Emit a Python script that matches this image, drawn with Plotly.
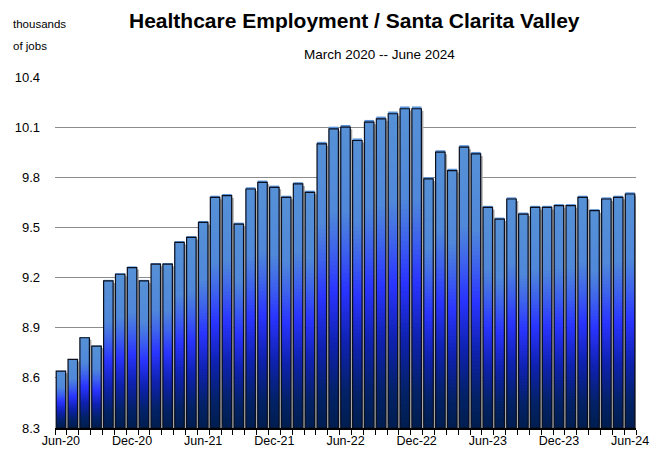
import plotly.graph_objects as go

months = ["Jun-20","Jul-20","Aug-20","Sep-20","Oct-20","Nov-20","Dec-20","Jan-21","Feb-21","Mar-21","Apr-21","May-21",
          "Jun-21","Jul-21","Aug-21","Sep-21","Oct-21","Nov-21","Dec-21","Jan-22","Feb-22","Mar-22","Apr-22","May-22",
          "Jun-22","Jul-22","Aug-22","Sep-22","Oct-22","Nov-22","Dec-22","Jan-23","Feb-23","Mar-23","Apr-23","May-23",
          "Jun-23","Jul-23","Aug-23","Sep-23","Oct-23","Nov-23","Dec-23","Jan-24","Feb-24","Mar-24","Apr-24","May-24",
          "Jun-24"]
jobs = [8.64, 8.71, 8.84, 8.79, 9.18, 9.22, 9.26, 9.18, 9.28, 9.28, 9.41, 9.44,
        9.53, 9.68, 9.69, 9.52, 9.73, 9.77, 9.74, 9.68, 9.76, 9.71, 10.00, 10.09,
        10.10, 10.02, 10.13, 10.15, 10.18, 10.21, 10.21, 9.79, 9.95, 9.84, 9.98, 9.94,
        9.62, 9.55, 9.67, 9.58, 9.62, 9.62, 9.63, 9.63, 9.68, 9.60, 9.67, 9.68,
        9.70]
label_months = ["Jun-20","Dec-20","Jun-21","Dec-21","Jun-22","Dec-22","Jun-23","Dec-23","Jun-24"]
y_ticks = [8.3, 8.6, 8.9, 9.2, 9.5, 9.8, 10.1, 10.4]

Y_MIN, Y_MAX = 8.3, 10.4
FONT = "Liberation Sans, Arial, sans-serif"

x = list(range(len(months)))
label_pos = [months.index(m) for m in label_months]

# vertical gradient stops: fraction from bar bottom -> colour
stops = [(0.0, (0, 30, 80)), (0.12, (3, 34, 105)), (0.28, (14, 34, 175)),
         (0.46, (42, 52, 255)), (0.58, (60, 95, 238)), (0.72, (80, 136, 218)),
         (1.0, (86, 145, 214))]

def grad(f):
    for (f0, c0), (f1, c1) in zip(stops[:-1], stops[1:]):
        if f0 <= f <= f1:
            t = (f - f0) / (f1 - f0)
            c = [round(a + (b - a) * t) for a, b in zip(c0, c1)]
            return "rgb(%d,%d,%d)" % tuple(c)
    return "rgb(%d,%d,%d)" % stops[-1][1]

W = 0.80
fig = go.Figure()

# drop shadow
fig.add_trace(go.Bar(x=x, y=[v - 0.012 - Y_MIN for v in jobs], base=Y_MIN, width=W,
                     offset=-W / 2 + 0.17, marker=dict(color="#a8a8a8", line=dict(width=0)),
                     hoverinfo="skip", showlegend=False))

N = 70
for k in range(N):
    ext = 1.0 if k == N - 1 else 2.5  # overlap slices to hide seams
    fig.add_trace(go.Bar(
        x=x,
        y=[(v - Y_MIN) / N * ext for v in jobs],
        base=[Y_MIN + (v - Y_MIN) * k / N for v in jobs],
        width=W, offset=-W / 2,
        marker=dict(color=grad((k + 0.5) / N), line=dict(width=0)),
        hoverinfo="skip", showlegend=False))

# outline
fig.add_trace(go.Bar(x=x, y=[v - Y_MIN for v in jobs], base=Y_MIN, width=W, offset=-W / 2,
                     marker=dict(color="rgba(0,0,0,0)", line=dict(color="#0b0f1e", width=1.2)),
                     showlegend=False, hovertemplate="%{customdata}: %{y:.2f}<extra></extra>",
                     customdata=months))

fig.update_layout(
    width=665, height=459,
    margin=dict(l=55, r=29, t=77, b=31),
    paper_bgcolor="white", plot_bgcolor="white",
    barmode="overlay",
    font=dict(family=FONT, size=13, color="black"),
    showlegend=False,
    xaxis=dict(range=[-0.5, len(months) - 0.5], tickmode="array", tickvals=label_pos,
               ticktext=label_months, ticks="", showgrid=False, zeroline=False,
               showline=True, linecolor="black", linewidth=1.5,
               tickfont=dict(family=FONT, size=12.5),
               minor=dict(tick0=-0.5, dtick=1, ticks="outside", ticklen=5,
                          tickcolor="black", tickwidth=1, showgrid=False)),
    yaxis=dict(range=[Y_MIN, Y_MAX], tickmode="array", tickvals=y_ticks,
               ticktext=["%.1f" % t for t in y_ticks], showgrid=True,
               gridcolor="#8c8c8c", gridwidth=1.3, zeroline=False, showline=False,
               ticks="", ticklabelstandoff=14, tickfont=dict(family=FONT, size=13)),
    annotations=[
        dict(text="<b>Healthcare Employment / Santa Clarita Valley</b>", x=0.516, y=1.162,
             xref="paper", yref="paper", xanchor="center", yanchor="middle",
             showarrow=False, font=dict(family=FONT, size=21)),
        dict(text="March 2020 -- June 2024", x=0.559, y=1.063, xref="paper", yref="paper",
             xanchor="center", yanchor="middle", showarrow=False, font=dict(family=FONT, size=13.5)),
        dict(text="thousands", x=-0.076, y=1.151, xref="paper", yref="paper",
             xanchor="left", yanchor="middle", align="left", showarrow=False,
             font=dict(family=FONT, size=11.5)),
        dict(text="of jobs", x=-0.076, y=1.088, xref="paper", yref="paper",
             xanchor="left", yanchor="middle", align="left", showarrow=False,
             font=dict(family=FONT, size=11.5)),
    ],
)

fig.write_html("out.html", config={"displayModeBar": False},
               post_script="document.body.style.margin='0';")
